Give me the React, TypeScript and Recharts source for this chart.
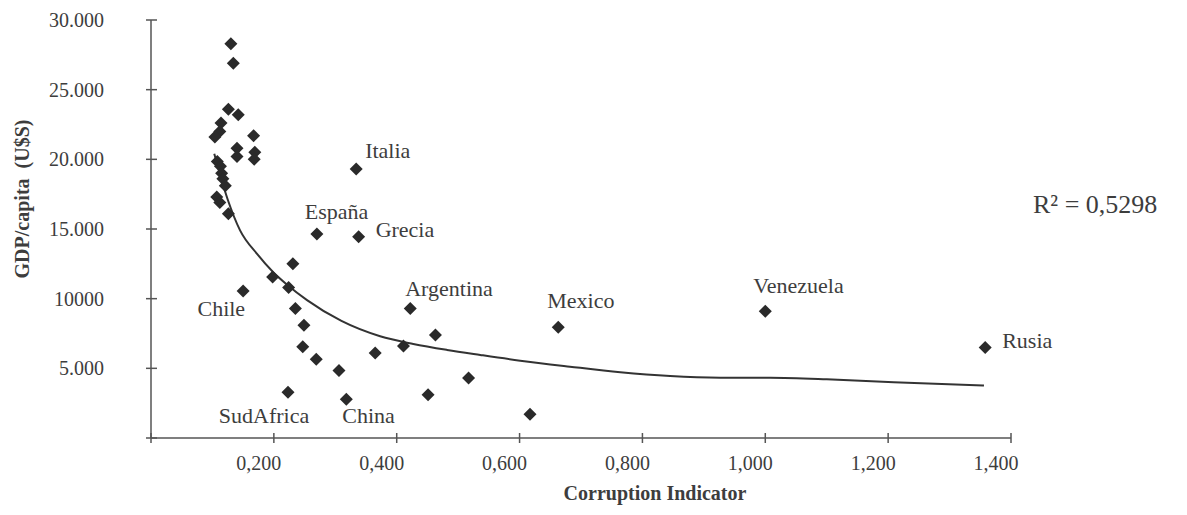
import { ScatterChart, Scatter, XAxis, YAxis, Label } from "recharts"

// labelled countries
const countryNames = ["Italia", "España", "Grecia", "Argentina", "Mexico", "Venezuela", "Rusia", "Chile", "SudAfrica", "China"]
const countryCorruption = [0.334, 0.27, 0.338, 0.422, 0.663, 1.0, 1.358, 0.15, 0.223, 0.318]
const countryGdp = [19300, 14650, 14450, 9300, 7950, 9100, 6500, 10550, 3280, 2780]

// the unlabelled points
const otherCorruption = [
  0.13, 0.134, 0.126, 0.142, 0.114, 0.112, 0.104, 0.167, 0.14, 0.14, 0.169, 0.168, 0.108, 0.113, 0.115,
  0.117, 0.121, 0.107, 0.112, 0.126, 0.198, 0.231, 0.224, 0.235, 0.249, 0.247, 0.269, 0.306, 0.365,
  0.411, 0.463, 0.451, 0.517, 0.617,
]
const otherGdp = [
  28300, 26900, 23600, 23200, 22600, 22000, 21600, 21700, 20800, 20200, 20500, 20000, 19850, 19500, 19000,
  18600, 18100, 17300, 16900, 16100, 11550, 12500, 10800, 9300, 8100, 6550, 5650, 4850, 6100,
  6600, 7400, 3100, 4300, 1700,
]

// trend curve
const trendCorruption = [0.103, 0.125, 0.145, 0.173, 0.199, 0.223, 0.254, 0.31, 0.373, 0.427, 0.482, 0.536, 0.601, 0.682, 0.764, 0.845, 0.927, 1.008, 1.1, 1.209, 1.356]
const trendGdp = [20400, 17100, 14900, 13200, 11900, 10950, 9900, 8400, 7300, 6750, 6320, 5960, 5550, 5120, 4720, 4450, 4330, 4320, 4210, 4000, 3760]

const xTicks = [0, 0.2, 0.4, 0.6, 0.8, 1.0, 1.2, 1.4]
const xTickLabels = ["", "0,200", "0,400", "0,600", "0,800", "1,000", "1,200", "1,400"]
const yTicks = [0, 5000, 10000, 15000, 20000, 25000, 30000]
const yTickLabels = ["", "5.000", "10000", "15.000", "20.000", "25.000", "30.000"]
const rSquared = "R² = 0,5298"

const countries = countryNames.map((name, i) => ({ name, x: countryCorruption[i], y: countryGdp[i] }))
const others = otherCorruption.map((x, i) => ({ x, y: otherGdp[i] }))
const trend = trendCorruption.map((x, i) => ({ x, y: trendGdp[i] }))

const FONT = "'Liberation Serif', 'Times New Roman', serif"
const TEXT = "#3d3d3d"
const INK = "#2a2a2a"
const AXIS = "#555"

// where each country name sits relative to its dot
const labelPlacement: Record<string, { dx: number; dy: number; anchor: "start" | "middle" | "end" }> = {
  Italia: { dx: 9, dy: -19, anchor: "start" },
  "España": { dx: -12, dy: -22, anchor: "start" },
  Grecia: { dx: 17, dy: -7, anchor: "start" },
  Argentina: { dx: -5, dy: -20, anchor: "start" },
  Mexico: { dx: -11, dy: -27, anchor: "start" },
  Venezuela: { dx: -12, dy: -26, anchor: "start" },
  Rusia: { dx: 17, dy: -7, anchor: "start" },
  Chile: { dx: 2, dy: 17, anchor: "end" },
  SudAfrica: { dx: -24, dy: 23, anchor: "middle" },
  China: { dx: -4, dy: 16, anchor: "start" },
}

function diamond(cx: number, cy: number) {
  const r = 6.5
  return `${cx},${cy - r} ${cx + r},${cy} ${cx},${cy + r} ${cx - r},${cy}`
}

function Dot(props: any) {
  const { cx, cy } = props
  return <polygon points={diamond(cx, cy)} fill={INK} />
}

function CountryDot(props: any) {
  const { cx, cy, payload } = props
  const p = labelPlacement[payload.name]
  return (
    <g>
      <polygon points={diamond(cx, cy)} fill={INK} />
      <text
        x={cx + p.dx}
        y={cy + p.dy}
        textAnchor={p.anchor}
        dominantBaseline="central"
        fontFamily={FONT}
        fontSize={22}
        fill={TEXT}
      >
        {payload.name}
      </text>
    </g>
  )
}

function XTick(props: any) {
  const { x, y, index } = props
  return (
    <g>
      <line x1={x} x2={x} y1={y - 5} y2={y + 5} stroke={AXIS} strokeWidth={1.5} />
      <text x={x - 15} y={y + 32} textAnchor="middle" fontFamily={FONT} fontSize={20} fill={TEXT}>
        {xTickLabels[index]}
      </text>
    </g>
  )
}

function YTick(props: any) {
  const { x, y, index } = props
  return (
    <g>
      <line x1={x - 5} x2={x + 6} y1={y} y2={y} stroke={AXIS} strokeWidth={1.5} />
      <text x={x - 47} y={y + 7} textAnchor="end" fontFamily={FONT} fontSize={20} fill={TEXT}>
        {yTickLabels[index]}
      </text>
    </g>
  )
}

export default function App() {
  return (
    <div style={{ width: 1179, height: 507, background: "#fff" }}>
      <ScatterChart width={1179} height={507} margin={{ top: 12, right: 176, bottom: 17, left: 43 }}>
        <XAxis
          type="number"
          dataKey="x"
          domain={[0, 1.4]}
          ticks={xTicks}
          tick={<XTick />}
          tickLine={false}
          tickSize={0}
          tickMargin={0}
          height={60}
          axisLine={{ stroke: AXIS, strokeWidth: 1.5 }}
        >
          <Label
            content={() => (
              <text x={647} y={485} textAnchor="middle" dominantBaseline="central" fontFamily={FONT} fontSize={20} fontWeight="bold" fill={TEXT}>
                Corruption Indicator
              </text>
            )}
          />
        </XAxis>
        <YAxis
          type="number"
          dataKey="y"
          domain={[0, 30000]}
          ticks={yTicks}
          tick={<YTick />}
          tickLine={false}
          tickSize={0}
          tickMargin={0}
          width={100}
          axisLine={{ stroke: AXIS, strokeWidth: 1.5 }}
        >
          <Label
            content={() => (
              <text
                x={14}
                y={191}
                transform="rotate(-90 14 191)"
                textAnchor="middle"
                dominantBaseline="central"
                fontFamily={FONT}
                fontSize={20}
                fontWeight="bold"
                fill={TEXT}
                xmlSpace="preserve"
              >
                {"GDP/capita\u00a0\u00a0(U$S)"}
              </text>
            )}
          />
          <Label
            content={() => (
              <text x={1025} y={205} textAnchor="start" fontFamily={FONT} fontSize={26} fill={TEXT}>
                {rSquared}
              </text>
            )}
          />
        </YAxis>
        <Scatter
          data={trend}
          line={{ stroke: "#333", strokeWidth: 2 }}
          lineType="joint"
          lineJointType="monotoneX"
          shape={() => <g />}
          isAnimationActive={false}
        />
        <Scatter data={others} shape={<Dot />} isAnimationActive={false} />
        <Scatter data={countries} shape={<CountryDot />} isAnimationActive={false} />
      </ScatterChart>
    </div>
  )
}
